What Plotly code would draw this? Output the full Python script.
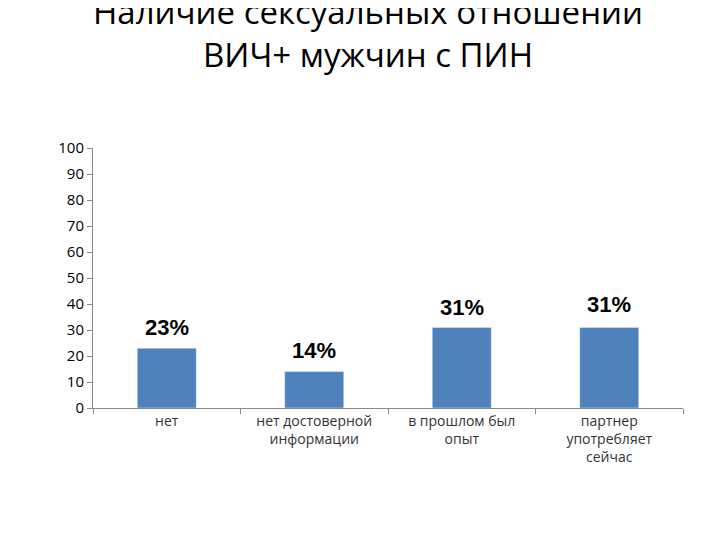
import plotly.graph_objects as go

categories = ["нет", "нет достоверной<br>информации", "в прошлом был<br>опыт", "партнер<br>употребляет<br>сейчас"]
values = [23, 14, 31, 31]
labels = ["23%", "14%", "31%", "31%"]
label_y = [31, 22, 38.5, 40]

fig = go.Figure(go.Bar(x=categories, y=values, marker_color="#4F81BD", width=0.4))
for c, t, ly in zip(categories, labels, label_y):
    fig.add_annotation(x=c, y=ly, text="<b>"+t+"</b>", showarrow=False,
                       font=dict(size=22, color="black", family="Liberation Sans"))
fig.update_layout(
    width=720, height=540, plot_bgcolor="white", paper_bgcolor="white",
    margin=dict(l=85, r=45, t=140, b=140),
    title=dict(text="Наличие сексуальных отношений<br>ВИЧ+ мужчин с ПИН", x=0.5, xanchor="center",
               y=0.97, yanchor="top", font=dict(size=33, family="Open Sans", color="black")),
    font=dict(family="Open Sans", size=14, color="#333"),
    showlegend=False, bargap=0.6,
)
fig.update_yaxes(range=[0, 100], dtick=10, showgrid=False, showline=True, linecolor="#888",
                 ticks="outside", ticklen=5, tickcolor="#888", tickfont=dict(size=15, color="black"))
fig.update_xaxes(showline=True, linecolor="#888", ticks="outside", tickcolor="#888", ticklen=5,
                 tickson="boundaries", tickfont=dict(size=14, color="#333"))
fig.write_html("out.html")
